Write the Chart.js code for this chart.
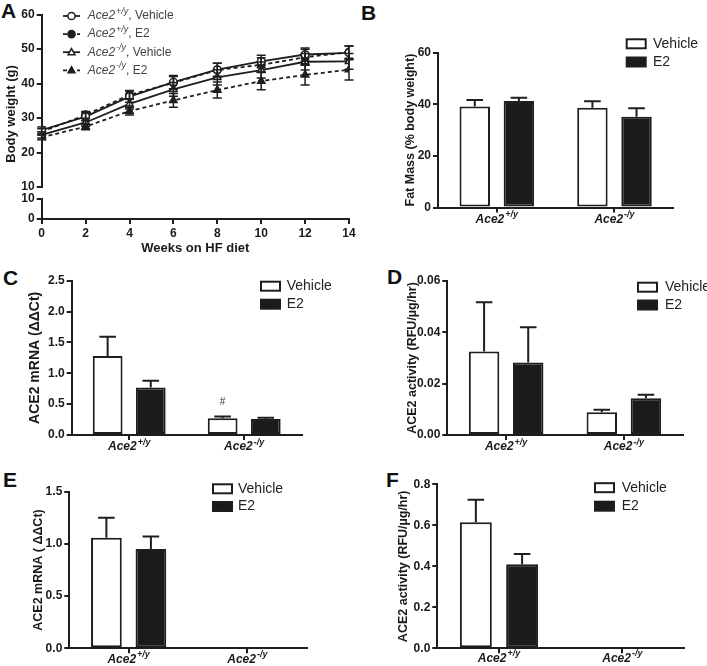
<!DOCTYPE html>
<html>
<head>
<meta charset="utf-8">
<script src="https://cdn.jsdelivr.net/npm/chart.js@4.4.1/dist/chart.umd.min.js"></script>
<style>
  body { margin: 0; background: #fff; width: 707px; height: 666px; position: relative; overflow: hidden; font-family: "Liberation Sans", Arial, sans-serif; }
  canvas { position: absolute; }
  .lab { position: absolute; font-weight: bold; font-size: 21px; line-height: 21px; color: #111; }
</style>
</head>
<body>
<div class="lab" style="left:1px;top:0px">A</div>
<div class="lab" style="left:361px;top:2px">B</div>
<div class="lab" style="left:3px;top:267px">C</div>
<div class="lab" style="left:387px;top:266px">D</div>
<div class="lab" style="left:3px;top:469px">E</div>
<div class="lab" style="left:386px;top:469px">F</div>

<canvas id="pA" width="360" height="260" style="left:0;top:0"></canvas>
<canvas id="pB" width="347" height="230" style="left:360px;top:0"></canvas>
<canvas id="pC" width="360" height="230" style="left:0;top:230px"></canvas>
<canvas id="pD" width="347" height="230" style="left:360px;top:230px"></canvas>
<canvas id="pE" width="360" height="226" style="left:0;top:440px"></canvas>
<canvas id="pF" width="347" height="226" style="left:360px;top:440px"></canvas>

<script>
// panel A: body weight on HF diet
const weeks = [0, 2, 4, 6, 8, 10, 12, 14]
const wtVehicle = [26.5, 30.4, 36.2, 40.4, 44.0, 46.4, 48.4, 48.9]
const wtVehicleSem = [0.9, 1.2, 1.6, 1.9, 1.9, 1.8, 1.9, 2.0]
const wtE2 = [26.0, 30.9, 36.7, 40.2, 43.9, 45.4, 47.6, 49.1]
const wtE2Sem = [0.9, 1.0, 1.3, 1.8, 2.0, 2.1, 2.3, 1.8]
const koVehicle = [25.1, 28.7, 34.1, 38.3, 41.8, 43.9, 46.3, 46.4]
const koVehicleSem = [0.9, 1.1, 1.5, 2.0, 2.2, 2.3, 2.4, 2.3]
const koE2 = [24.4, 27.5, 32.0, 35.1, 38.1, 40.7, 42.5, 44.0]
const koE2Sem = [0.7, 0.9, 1.1, 2.0, 2.3, 2.5, 2.9, 3.0]

// bar panels, categories = genotype
const genotypes = ['Ace2|+/y', 'Ace2|-/y']
const fatVehicle = [39.1, 38.7]
const fatVehicleSem = [2.6, 2.5]
const fatE2 = [41.3, 35.2]
const fatE2Sem = [1.2, 3.3]
const mrnaVehicle = [1.28, 0.27]
const mrnaVehicleSem = [0.31, 0.03]
const mrnaE2 = [0.77, 0.26]
const mrnaE2Sem = [0.11, 0.02]
const actVehicle = [0.0325, 0.0089]
const actVehicleSem = [0.0192, 0.0009]
const actE2 = [0.0282, 0.0143]
const actE2Sem = [0.0138, 0.0014]
const mrna2Vehicle = [1.06, null]
const mrna2VehicleSem = [0.19, null]
const mrna2E2 = [0.95, null]
const mrna2E2Sem = [0.12, null]
const act2Vehicle = [0.615, null]
const act2VehicleSem = [0.11, null]
const act2E2 = [0.41, null]
const act2E2Sem = [0.05, null]

const ink = '#1e1e1e'
const fam = '"Liberation Sans", Arial, sans-serif'

// "Ace2|+/y|, Vehicle" -> italic base, superscript, plain rest
function drawRich(ctx, str, x, y, size, weight, align, color) {
    const parts = str.split('|')
    const f1 = 'italic ' + weight + ' ' + size + 'px ' + fam
    const f2 = 'italic ' + weight + ' ' + Math.round(size * 0.72) + 'px ' + fam
    const f3 = weight + ' ' + size + 'px ' + fam
    ctx.font = f1
    const w1 = ctx.measureText(parts[0]).width
    ctx.font = f2
    const w2 = parts[1] ? ctx.measureText(parts[1]).width + 1 : 0
    ctx.font = f3
    const w3 = parts[2] ? ctx.measureText(parts[2]).width : 0
    let sx = align === 'center' ? x - (w1 + w2 + w3) / 2 : x
    ctx.fillStyle = color
    ctx.textAlign = 'left'
    ctx.textBaseline = 'middle'
    ctx.font = f1
    ctx.fillText(parts[0], sx, y)
    if (parts[1]) {
        ctx.font = f2
        ctx.fillText(parts[1], sx + w1 + 1, y - size * 0.38)
    }
    if (parts[2]) {
        ctx.font = f3
        ctx.fillText(parts[2], sx + w1 + w2, y)
    }
}

function drawMarker(ctx, style, filled, x, y, r) {
    ctx.beginPath()
    if (style === 'triangle') {
        ctx.moveTo(x, y - r)
        ctx.lineTo(x + r * 0.95, y + r * 0.7)
        ctx.lineTo(x - r * 0.95, y + r * 0.7)
        ctx.closePath()
    } else {
        ctx.arc(x, y, r, 0, Math.PI * 2)
    }
    ctx.fillStyle = filled ? ink : '#fff'
    ctx.fill()
    ctx.lineWidth = 1.5
    ctx.strokeStyle = ink
    ctx.stroke()
}

// SEM whiskers: up only on bars, both ways on lines
const errorBars = {
    id: 'errorBars',
    afterDatasetsDraw(chart) {
        const ctx = chart.ctx
        const isLine = chart.config.type === 'line'
        chart.data.datasets.forEach((ds, di) => {
            if (!ds.err) return
            const meta = chart.getDatasetMeta(di)
            const ys = chart.scales[meta.yAxisID]
            ctx.save()
            ctx.strokeStyle = ink
            ctx.lineWidth = isLine ? 1.5 : 2
            ctx.setLineDash([])
            const cap = isLine ? 4.5 : 8.3
            meta.data.forEach((el, i) => {
                const v = ds.data[i]
                const e = ds.err[i]
                if (v == null || !e) return
                const x = el.x
                const yTop = ys.getPixelForValue(v + e)
                const yBot = isLine ? ys.getPixelForValue(v - e) : ys.getPixelForValue(v)
                ctx.beginPath()
                ctx.moveTo(x, yBot)
                ctx.lineTo(x, yTop)
                ctx.moveTo(x - cap, yTop)
                ctx.lineTo(x + cap, yTop)
                if (isLine) {
                    ctx.moveTo(x - cap, yBot)
                    ctx.lineTo(x + cap, yBot)
                }
                ctx.stroke()
            })
            ctx.restore()
        })
    }
}

const boxLegend = {
    id: 'boxLegend',
    afterDraw(chart, args, opts) {
        if (opts.x == null) return
        const ctx = chart.ctx
        ctx.save()
        chart.data.datasets.forEach((ds, i) => {
            const y = opts.y + i * opts.gap
            if (chart.config.type === 'line') {
                ctx.strokeStyle = ink
                ctx.lineWidth = 1.8
                ctx.setLineDash(ds.borderDash || [])
                ctx.beginPath()
                ctx.moveTo(opts.x, y)
                ctx.lineTo(opts.x + 17, y)
                ctx.stroke()
                ctx.setLineDash([])
                drawMarker(ctx, ds.pointStyle, ds.pointBackgroundColor !== '#fff', opts.x + 8.5, y, 3.6)
                drawRich(ctx, ds.label, opts.textX, y, 12, 'normal', 'left', '#444')
            } else {
                ctx.fillStyle = ds.backgroundColor
                ctx.fillRect(opts.x, y - 4.5, 19, 9)
                ctx.strokeStyle = ink
                ctx.lineWidth = 2
                ctx.strokeRect(opts.x, y - 4.5, 19, 9)
                ctx.fillStyle = '#222'
                ctx.font = '14px ' + fam
                ctx.textAlign = 'left'
                ctx.textBaseline = 'middle'
                ctx.fillText(ds.label, opts.textX, y)
            }
        })
        ctx.restore()
    }
}

const catLabels = {
    id: 'catLabels',
    afterDraw(chart, args, opts) {
        if (opts.dy == null) return
        const xs = chart.scales.x
        chart.data.labels.forEach((lab, i) => {
            drawRich(chart.ctx, lab, xs.getPixelForTick(i), chart.chartArea.bottom + opts.dy, 12, 'bold', 'center', '#1a1a1a')
        })
    }
}

const sideTitle = {
    id: 'sideTitle',
    afterDraw(chart, args, opts) {
        if (!opts.text) return
        const ctx = chart.ctx
        ctx.save()
        ctx.translate(opts.x, opts.y)
        ctx.rotate(-Math.PI / 2)
        ctx.fillStyle = '#1a1a1a'
        ctx.font = 'bold 13px ' + fam
        ctx.textAlign = 'center'
        ctx.textBaseline = 'middle'
        ctx.fillText(opts.text, 0, 0)
        ctx.restore()
    }
}

const marks = {
    id: 'marks',
    afterDraw(chart, args, opts) {
        if (!opts.items) return
        const ctx = chart.ctx
        opts.items.forEach(m => {
            const el = chart.getDatasetMeta(m.ds).data[m.i]
            const ds = chart.data.datasets[m.ds]
            const yTop = chart.scales.y.getPixelForValue(ds.data[m.i] + ds.err[m.i])
            ctx.fillStyle = '#333'
            ctx.font = '10px ' + fam
            ctx.textAlign = 'center'
            ctx.textBaseline = 'middle'
            ctx.fillText(m.text, el.x, yTop - 14)
        })
    }
}

Chart.register(errorBars, boxLegend, catLabels, sideTitle, marks)

const tickFont = { family: fam, size: 12, weight: 'bold' }
const axisGrid = { drawOnChartArea: false, tickLength: 5, color: ink, lineWidth: 2 }
const axisBorder = { color: ink, width: 2 }

function lineSet(label, data, err, style, filled, dashed) {
    return {
        label: label, data: data, err: err, yAxisID: 'y',
        borderColor: ink, borderWidth: 1.8, borderDash: dashed ? [4, 3] : [],
        pointStyle: style, pointRadius: style === 'triangle' ? 4.2 : 3.8,
        pointBackgroundColor: filled ? ink : '#fff', pointBorderColor: ink, pointBorderWidth: 1.5,
        tension: 0, fill: false
    }
}

// panel A, broken y axis = three stacked scales (listed bottom to top)
const aW = 360, aH = 260, aArea = [41.7, 14.5, 349, 219]
new Chart(document.getElementById('pA'), {
    type: 'line',
    data: {
        labels: weeks,
        datasets: [
            lineSet('Ace2|+/y|, Vehicle', wtVehicle, wtVehicleSem, 'circle', false, false),
            lineSet('Ace2|+/y|, E2', wtE2, wtE2Sem, 'circle', true, true),
            lineSet('Ace2|-/y|, Vehicle', koVehicle, koVehicleSem, 'triangle', false, false),
            lineSet('Ace2|-/y|, E2', koE2, koE2Sem, 'triangle', true, true)
        ]
    },
    options: {
        responsive: false, animation: false, devicePixelRatio: 1,
        layout: { padding: { left: 0, top: aArea[1], right: aW - aArea[2], bottom: 0 } },
        plugins: {
            legend: { display: false }, tooltip: { enabled: false },
            boxLegend: { x: 63, y: 16, gap: 18.1, textX: 87.7 },
            sideTitle: { text: 'Body weight (g)', x: 11, y: 114 }
        },
        scales: {
            x: {
                type: 'linear', min: 0, max: 14,
                ticks: { stepSize: 2, font: tickFont, color: '#1a1a1a', padding: 2 },
                grid: axisGrid, border: axisBorder,
                title: { display: true, text: 'Weeks on HF diet', font: { family: fam, size: 13, weight: 'bold' }, color: '#1a1a1a', padding: { top: 0, bottom: 4 } },
                afterFit: s => { s.height = aH - aArea[3] }
            },
            y2: {
                type: 'linear', position: 'left', stack: 'bw', stackWeight: 20,
                min: 0, max: 10,
                ticks: { stepSize: 10, autoSkip: false, font: tickFont, color: '#1a1a1a', padding: 2 },
                grid: axisGrid, border: axisBorder,
                afterFit: s => { s.width = aArea[0] }
            },
            gap: {
                type: 'linear', position: 'left', stack: 'bw', stackWeight: 12,
                min: 0, max: 1,
                ticks: { display: false }, grid: { display: false }, border: { display: false },
                afterFit: s => { s.width = aArea[0] }
            },
            y: {
                type: 'linear', position: 'left', stack: 'bw', stackWeight: 172.5,
                min: 10, max: 60,
                ticks: { stepSize: 10, autoSkip: false, font: tickFont, color: '#1a1a1a', padding: 2 },
                grid: axisGrid, border: axisBorder,
                afterFit: s => { s.width = aArea[0] }
            }
        }
    }
})

function barPanel(id, p) {
    const cv = document.getElementById(id)
    const W = cv.width, H = cv.height, a = p.area
    const common = { borderColor: ink, borderWidth: 2, borderSkipped: false, barPercentage: 0.69, categoryPercentage: 0.75 }
    return new Chart(cv, {
        type: 'bar',
        data: {
            labels: genotypes,
            datasets: [
                Object.assign({ label: 'Vehicle', data: p.vehicle, err: p.vehicleSem, backgroundColor: '#fff' }, common),
                Object.assign({ label: 'E2', data: p.e2, err: p.e2Sem, backgroundColor: '#1b1b1b' }, common)
            ]
        },
        options: {
            responsive: false, animation: false, devicePixelRatio: 1,
            layout: { padding: { left: 0, top: a[1], right: W - a[2], bottom: 0 } },
            plugins: {
                legend: { display: false }, tooltip: { enabled: false },
                boxLegend: p.legend,
                catLabels: { dy: p.labelDy },
                marks: { items: p.marks }
            },
            scales: {
                x: {
                    offset: true,
                    ticks: { display: false },
                    grid: Object.assign({ offset: false }, axisGrid), border: axisBorder,
                    afterFit: s => { s.height = H - a[3] }
                },
                y: {
                    min: 0, max: p.max,
                    ticks: { stepSize: p.step, font: tickFont, color: '#1a1a1a', padding: 2, callback: v => v.toFixed(p.dec) },
                    grid: axisGrid, border: axisBorder,
                    title: { display: true, text: p.title, font: { family: fam, size: p.titleSize, weight: 'bold' }, color: '#1a1a1a', padding: { top: p.titlePad, bottom: 0 } },
                    afterFit: s => { s.width = a[0] }
                }
            }
        }
    })
}

barPanel('pB', {
    area: [78, 52.7, 313.3, 207.5], max: 60, step: 20, dec: 0,
    title: 'Fat Mass (% body weight)', titleSize: 12.5, titlePad: 43,
    vehicle: fatVehicle, vehicleSem: fatVehicleSem, e2: fatE2, e2Sem: fatE2Sem,
    legend: { x: 266.7, y: 43.8, gap: 18.2, textX: 293 }, labelDy: 12
})
barPanel('pC', {
    area: [71.7, 50.7, 301.7, 205], max: 2.5, step: 0.5, dec: 1,
    title: 'ACE2 mRNA (\u0394\u0394Ct)', titleSize: 14, titlePad: 26.5,
    vehicle: mrnaVehicle, vehicleSem: mrnaVehicleSem, e2: mrnaE2, e2Sem: mrnaE2Sem,
    legend: { x: 261, y: 56.2, gap: 18, textX: 286.7 }, labelDy: 12,
    marks: [{ ds: 0, i: 1, text: '#' }]
})
barPanel('pD', {
    area: [87.3, 51, 322.7, 205], max: 0.06, step: 0.02, dec: 2,
    title: 'ACE2 activity (RFU/\u00b5g/hr)', titleSize: 12.5, titlePad: 45.5,
    vehicle: actVehicle, vehicleSem: actVehicleSem, e2: actE2, e2Sem: actE2Sem,
    legend: { x: 278, y: 57.2, gap: 17.8, textX: 305 }, labelDy: 12
})
barPanel('pE', {
    area: [69.3, 51.7, 306.7, 208.3], max: 1.5, step: 0.5, dec: 1,
    title: 'ACE2 mRNA ( \u0394\u0394Ct)', titleSize: 12.5, titlePad: 30.8,
    vehicle: mrna2Vehicle, vehicleSem: mrna2VehicleSem, e2: mrna2E2, e2Sem: mrna2E2Sem,
    legend: { x: 213, y: 48.8, gap: 17.7, textX: 238 }, labelDy: 11
})
barPanel('pF', {
    area: [77.3, 44.3, 324, 208.3], max: 0.8, step: 0.2, dec: 1,
    title: 'ACE2 activity (RFU/\u00b5g/hr)', titleSize: 12.5, titlePad: 36.5,
    vehicle: act2Vehicle, vehicleSem: act2VehicleSem, e2: act2E2, e2Sem: act2E2Sem,
    legend: { x: 235, y: 47.7, gap: 18.5, textX: 261.7 }, labelDy: 10
})
</script>
</body>
</html>
